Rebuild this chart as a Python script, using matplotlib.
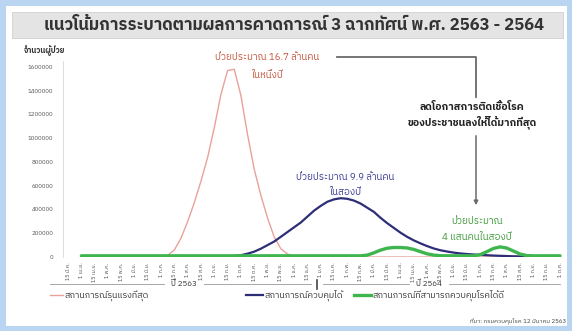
import matplotlib
matplotlib.use('Agg')
import matplotlib.pyplot as plt
import numpy as np
from matplotlib import font_manager
from matplotlib.ft2font import FT2Font
from matplotlib.lines import Line2D
from matplotlib.patches import Rectangle, FancyArrowPatch

# data: one point per week, x is in half-month tick units
weeks = [1.0, 1.5, 2.0, 2.5, 3.0, 3.5, 4.0, 4.5, 5.0, 5.5, 6.0, 6.5, 7.0, 7.5, 8.0, 8.5,
         9.0, 9.5, 10.0, 10.5, 11.0, 11.5, 12.0, 12.5, 13.0, 13.5, 14.0, 14.5, 15.0, 15.5,
         16.0, 16.5, 17.0, 17.5, 18.0, 18.5, 19.0, 19.5, 20.0, 20.5, 21.0, 21.5, 22.0, 22.5,
         23.0, 23.5, 24.0, 24.5, 25.0, 25.5, 26.0, 26.5, 27.0, 27.5, 28.0, 28.5, 29.0, 29.5,
         30.0, 30.5, 31.0, 31.5, 32.0, 32.5, 33.0, 33.5, 34.0, 34.5, 35.0, 35.5, 36.0, 36.5, 37.0]

severe = [0, 0, 0, 0, 0, 0, 0, 0, 0, 0, 0, 0, 5000, 15000, 60000, 160000,
          300000, 460000, 640000, 840000, 1090000, 1370000, 1570000, 1580000, 1360000, 1030000, 740000, 520000, 330000, 170000,
          70000, 25000, 8000, 2000, 0, 0, 0, 0, 0, 0, 0, 0, 0, 0,
          0, 0, 0, 0, 0, 0, 0, 0, 0, 0, 0, 0, 0, 0,
          0, 0, 0, 0, 0, 0, 0, 0, 0, 0, 0, 0, 0, 0, 0]

moderate = [0, 0, 0, 0, 0, 0, 0, 0, 0, 0, 0, 0, 0, 0, 0, 0,
            0, 0, 0, 0, 0, 0, 3000, 8000, 15000, 28000, 45000, 70000, 100000, 130000,
            170000, 210000, 250000, 290000, 340000, 390000, 430000, 465000, 485000, 495000, 490000, 475000, 450000, 415000,
            380000, 330000, 285000, 245000, 205000, 170000, 140000, 115000, 92000, 72000, 57000, 46000, 37000, 30000,
            25000, 21000, 18000, 15000, 12000, 10000, 8000, 6000, 5000, 3000, 2000, 1000, 0, 0, 0]

controlled = [10000, 10000, 10000, 10000, 10000, 10000, 10000, 10000, 10000, 10000, 10000, 10000, 10000, 10000, 10000, 10000,
              10000, 10000, 10000, 10000, 10000, 10000, 10000, 10000, 10000, 10000, 10000, 10000, 10000, 10000,
              10000, 10000, 10000, 10000, 10000, 10000, 10000, 10000, 10000, 10000, 10000, 10000, 10000, 16000,
              35000, 58000, 74000, 80000, 80000, 76000, 64000, 45000, 27000, 16000, 11000, 10000, 10000, 10000,
              10000, 10000, 20000, 45000, 72000, 85000, 75000, 50000, 25000, 12000, 10000, 10000, 10000, 10000, 10000]

months_63 = ['15 มี.ค.', '1 เม.ย.', '15 เม.ย.', '1 พ.ค.', '15 พ.ค.', '1 มิ.ย.', '15 มิ.ย.', '1 ก.ค.', '15 ก.ค.',
             '1 ส.ค.', '15 ส.ค.', '1 ก.ย.', '15 ก.ย.', '1 ต.ค.', '15 ต.ค.', '1 พ.ย.', '15 พ.ย.', '1 ธ.ค.', '15 ธ.ค.']
months_64 = ['1 ม.ค.', '15 ม.ค.', '1 ก.พ.', '15 ก.พ.', '1 มี.ค.', '15 มี.ค.', '1 เม.ย.', '15 เม.ย.', '1 พ.ค.',
             '15 พ.ค.', '1 มิ.ย.', '15 มิ.ย.', '1 ก.ค.', '15 ก.ค.', '1 ส.ค.', '15 ส.ค.', '1 ก.ย.', '15 ก.ย.', '1 ต.ค.']
xlabels = months_63 + months_64
yticks = [0, 200000, 400000, 600000, 800000, 1000000, 1200000, 1400000, 1600000]

series_names = ['สถานการณ์รุนแรงที่สุด', 'สถานการณ์ควบคุมได้', 'สถานการณ์ที่สามารถควบคุมโรคได้ดี']
series_colors = ['#e9a19b', '#2e2d78', '#3fb550']
series_widths = [1.0, 1.6, 2.4]


def thai_font():
    found = []
    for f in font_manager.fontManager.ttflist:
        try:
            if 0x0E01 in FT2Font(f.fname).get_charmap():
                found.append(f.name)
        except Exception:
            pass
    for name in found:
        if 'Thai' in name and 'Looped' not in name:
            return name
    return found[0] if found else 'DejaVu Sans'


TH = thai_font()
plt.rcParams['font.family'] = [TH, 'DejaVu Sans']

W, H = 572, 331


def fx(px):
    return px / W


def fy(py):
    return 1 - py / H


def hline(x0, x1, py, **kw):
    fig.add_artist(Line2D([fx(x0), fx(x1)], [fy(py), fy(py)], transform=fig.transFigure, **kw))


fig = plt.figure(figsize=(W / 100, H / 100), dpi=100)
fig.patch.set_facecolor('#b9d5f2')
fig.patches.append(Rectangle((fx(6), fy(326)), fx(561), 320 / H, transform=fig.transFigure,
                             facecolor='white', edgecolor='none', zorder=-2))
fig.patches.append(Rectangle((fx(12), fy(38)), fx(551), 26 / H, transform=fig.transFigure,
                             facecolor='#e4e4e4', edgecolor='#d0d0d0', lw=0.6, zorder=-1))
fig.text(fx(294), fy(25), 'แนวโน้มการระบาดตามผลการคาดการณ์ 3 ฉากทัศน์ พ.ศ. 2563 - 2564',
         ha='center', va='center', fontsize=12, fontweight='bold', color='#333333')

# axes: x index 0 at px 68, 13.3 px per tick
x_left, x_right = -0.38, 37.45
ax = fig.add_axes([fx(63), fy(257), fx(503), 196 / H])
for vals, c, lw, z in zip([severe, moderate, controlled], series_colors, series_widths, [2, 3, 4]):
    ax.plot(weeks, vals, color=c, lw=lw, zorder=z, solid_capstyle='round', solid_joinstyle='round')
ax.set_xlim(x_left, x_right)
ax.set_ylim(0, 1650000)
ax.set_yticks(yticks)
ax.set_yticklabels([str(v) for v in yticks], fontsize=4.4, color='#555555')
ax.set_xticks(range(len(xlabels)))
ax.set_xticklabels(xlabels, rotation=90, fontsize=4, color='#555555')
ax.tick_params(axis='y', length=0, pad=7)
ax.tick_params(axis='x', length=0, pad=4)
for s in ['top', 'right', 'bottom']:
    ax.spines[s].set_visible(False)
ax.spines['left'].set_color('#d8d8d8')
ax.spines['left'].set_linewidth(0.6)
ax.set_facecolor('none')

fig.text(fx(24), fy(51), 'จำนวนผู้ป่วย', ha='left', va='center', fontsize=5.6,
         fontweight='bold', color='#333333')

# annotations
fig.text(fx(267), fy(57), 'ป่วยประมาณ 16.7 ล้านคน', ha='center', va='center', fontsize=7, color='#c4573f')
fig.text(fx(267), fy(75), 'ในหนึ่งปี', ha='center', va='center', fontsize=7, color='#c4573f')
fig.text(fx(345), fy(178), 'ป่วยประมาณ 9.9 ล้านคน', ha='center', va='center', fontsize=7, color='#3b3b96')
fig.text(fx(345), fy(192), 'ในสองปี', ha='center', va='center', fontsize=7, color='#3b3b96')
fig.text(fx(477), fy(222), 'ป่วยประมาณ', ha='center', va='center', fontsize=7, color='#3f9a3a')
fig.text(fx(477), fy(238), '4 แสนคนในสองปี', ha='center', va='center', fontsize=7, color='#3f9a3a')

fig.text(fx(472), fy(107), 'ลดโอกาสการติดเชื้อโรค', ha='center', va='center', fontsize=7.6,
         fontweight='bold', color='#222222')
fig.text(fx(472), fy(122), 'ของประชาชนลงให้ได้มากที่สุด', ha='center', va='center', fontsize=7.6,
         fontweight='bold', color='#222222')
grey = '#6a6a6a'
fig.add_artist(Line2D([fx(337), fx(476), fx(476)], [fy(57), fy(57), fy(97)], transform=fig.transFigure,
                      color=grey, lw=1.3))
fig.add_artist(FancyArrowPatch((fx(476), fy(133)), (fx(476), fy(208)), transform=fig.transFigure,
                               arrowstyle='-|>', mutation_scale=6, color=grey, lw=1.1))

# year brackets under the axis, the line breaks around each year label
for x0, x1 in [(50, 164), (204, 311), (323, 409), (449, 560)]:
    hline(x0, x1, 284, color='#999999', lw=0.6)
fig.add_artist(Line2D([fx(317), fx(317)], [fy(280), fy(289)], transform=fig.transFigure, color='#444444', lw=1.2))
for px, label in [(184, 'ปี 2563'), (429, 'ปี 2564')]:
    fig.text(fx(px), fy(286.5), label, ha='center', va='baseline', fontsize=5.8, color='#333333')

# legend, placed by hand like the original
legend_x = [(50, 63), (246, 263), (354, 371)]
for (x0, x1), name, c, lw in zip(legend_x, series_names, series_colors, series_widths):
    hline(x0, x1, 295, color=c, lw=lw)
    fig.text(fx(x1 + 1), fy(297.5), name, ha='left', va='baseline', fontsize=6.4, color='#333333')

fig.text(fx(566), fy(321), 'ที่มา: กรมควบคุมโรค 12 มีนาคม 2563', ha='right', va='center', fontsize=4.4,
         color='#444444')

fig.savefig('out.png', dpi=100, facecolor=fig.get_facecolor())
